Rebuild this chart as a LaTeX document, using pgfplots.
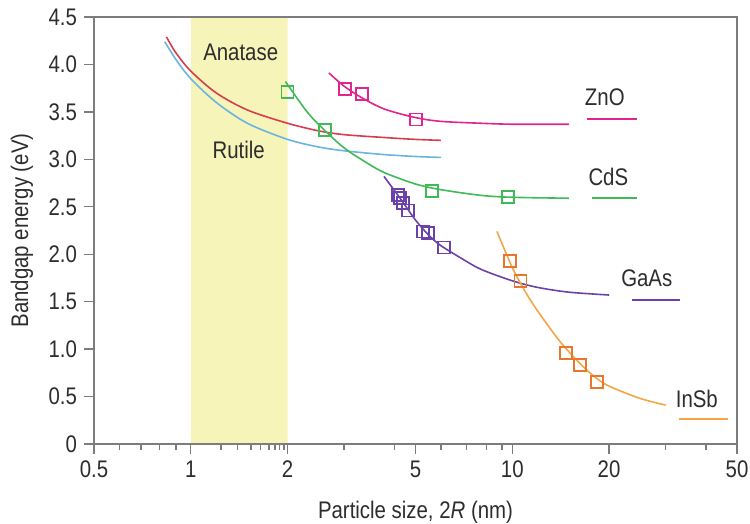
\documentclass[border=0pt]{standalone}
\usepackage{pgfplots}
\pgfplotsset{compat=1.18}
\usepackage{fontspec}
\setmainfont{Liberation Sans}[FakeStretch=0.85]

\definecolor{axisgray}{RGB}{125,125,125}
\definecolor{textgray}{RGB}{45,45,45}
\definecolor{bandyellow}{RGB}{246,244,184}
\definecolor{anatase}{RGB}{214,62,78}
\definecolor{rutile}{RGB}{108,180,224}
\definecolor{zno}{RGB}{226,36,142}
\definecolor{cds}{RGB}{62,186,86}
\definecolor{gaas}{RGB}{106,66,170}
\definecolor{insb}{RGB}{243,166,72}
\definecolor{insbmark}{RGB}{232,118,46}

\begin{document}
\begin{tikzpicture}
\begin{axis}[
    name=ax,
    scale only axis, width=321.5pt, height=213.5pt,
    xmode=log, xmin=0.5, xmax=50, ymin=0, ymax=4.5,
    xtick={0.5,1,2,5,10,20,50},
    xticklabels={0.5,1,2,5,10,20,50},
    minor xtick={0.6,0.7,0.8,0.9,1.24,1.4,1.54,1.65,1.75,1.83,1.89,1.95,3,4.3,6,7.2,8.3,9.3,30,40},
    ytick={0,0.5,1,1.5,2,2.5,3,3.5,4,4.5},
    yticklabels={0,0.5,1.0,1.5,2.0,2.5,3.0,3.5,4.0,4.5},
    xtick pos=left, ytick pos=left,
    tick align=outside,
    major tick length=5pt, minor tick length=3pt,
    axis line style={draw=axisgray, line width=0.8pt},
    every tick/.style={axisgray, line width=0.7pt},
    /pgf/number format/assume math mode=true,
    tick label style={font=\fontsize{12}{14}\selectfont, text=textgray},
    label style={font=\fontsize{12}{14}\selectfont, text=textgray},
    xlabel={Particle size, 2\textit{R} (nm)},
    ylabel={Bandgap energy (eV)},
    xlabel style={at={(axis description cs:0.5,-0.159)}, anchor=center},
    ylabel style={at={(axis description cs:-0.112,0.5)}, anchor=center},
    axis on top,
    every axis plot/.append style={line width=0.8pt},
]
% shaded 1-2 nm band
\addplot[fill=bandyellow, draw=none] coordinates {(1,0) (1,4.5) (2,4.5) (2,0)} \closedcycle;

% TiO2 curves
\addplot[anatase, smooth] coordinates {
    (0.84,4.29) (0.9,4.12) (1.0,3.93) (1.2,3.70) (1.5,3.52) (2.0,3.38)
    (2.5,3.30) (3,3.26) (4,3.23) (5,3.21) (6,3.20)};
\addplot[rutile, smooth] coordinates {
    (0.83,4.24) (0.9,4.05) (1.0,3.85) (1.2,3.60) (1.5,3.38) (2.0,3.21)
    (2.5,3.13) (3,3.09) (4,3.05) (5,3.03) (6,3.02)};

% ZnO
\addplot[zno, smooth] coordinates {
    (2.69,3.91) (3.0,3.77) (3.4,3.65) (4,3.53) (5,3.44) (6,3.40)
    (8,3.38) (10,3.37) (15,3.37)};
\addplot[zno, only marks, mark=square, mark size=3pt, mark options={line width=0.9pt}] coordinates {
    (3.02,3.74) (3.41,3.69) (5.02,3.42)};

% CdS
\addplot[cds, smooth] coordinates {
    (1.97,3.82) (2.3,3.50) (2.6,3.31) (3,3.12) (3.5,2.97) (4,2.86)
    (5,2.74) (6,2.68) (8,2.62) (10,2.60) (15,2.59)};
\addplot[cds, only marks, mark=square, mark size=3pt, mark options={line width=0.9pt}] coordinates {
    (2.0,3.71) (2.61,3.31) (5.62,2.67) (9.70,2.60)};

% GaAs
\addplot[gaas, smooth] coordinates {
    (3.99,2.82) (4.5,2.58) (5,2.36) (5.5,2.20) (6,2.09) (7,1.95)
    (8,1.84) (10,1.72) (12,1.65) (15,1.60) (20,1.57)};
\addplot[gaas, only marks, mark=square, mark size=3pt, mark options={line width=0.9pt}] coordinates {
    (4.41,2.62) (4.47,2.59) (4.57,2.54) (4.74,2.46) (5.28,2.24) (5.47,2.22) (6.13,2.07)};

% InSb
\addplot[insb, smooth] coordinates {
    (8.96,2.24) (10,1.86) (11,1.60) (12,1.40) (14,1.09) (16,0.87)
    (18,0.71) (20,0.61) (25,0.48) (30,0.41)};
\addplot[insbmark, only marks, mark=square, mark size=3pt, mark options={line width=0.9pt}] coordinates {
    (9.84,1.93) (10.6,1.72) (14.7,0.96) (16.2,0.83) (18.35,0.65)};

% key lines beside the labels
\addplot[zno, line width=1pt] coordinates {(17.1,3.42) (24.4,3.42)};
\addplot[cds, line width=1pt] coordinates {(17.7,2.59) (24.4,2.59)};
\addplot[gaas, line width=1pt] coordinates {(23.6,1.52) (33.2,1.52)};
\addplot[insb, line width=1pt] coordinates {(33.0,0.26) (46.9,0.26)};

\begin{scope}[every node/.style={font=\fontsize{12}{14}\selectfont, text=textgray}]
\node at (axis cs:1.43,4.13) {Anatase};
\node at (axis cs:1.41,3.10) {Rutile};
\node at (axis cs:19.4,3.65) {ZnO};
\node at (axis cs:19.9,2.81) {CdS};
\node at (axis cs:26.2,1.75) {GaAs};
\node at (axis cs:37.5,0.48) {InSb};
\end{scope}
\end{axis}
\pgfresetboundingbox
\path[use as bounding box] (ax.south west) ++(-47pt,-40pt) rectangle ++(375pt,262pt);
\end{tikzpicture}
\end{document}
